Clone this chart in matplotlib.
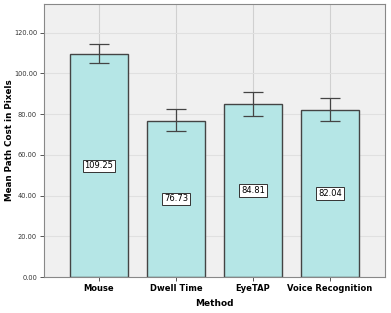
import matplotlib.pyplot as plt
import numpy as np

methods = ['Mouse', 'Dwell Time', 'EyeTAP', 'Voice Recognition']
means = [109.25, 76.73, 84.81, 82.04]
ci_low = [104.9, 71.6, 78.9, 76.5]
ci_high = [114.2, 82.4, 90.7, 87.7]

x = np.arange(len(methods))
means_arr = np.array(means)
yerr = [means_arr - np.array(ci_low), np.array(ci_high) - means_arr]

fig = plt.figure(figsize=(3.91, 3.13), dpi=100)
ax = fig.add_axes([0.1125, 0.115, 0.872, 0.872])
ax.set_facecolor('#f0f0f0')

ax.bar(x, means, width=0.75, color='#b5e6e6', edgecolor='#444444', linewidth=1.0, zorder=2)
ax.errorbar(x, means, yerr=yerr, fmt='none', ecolor='#444444', elinewidth=0.9,
            capsize=7, capthick=0.9, zorder=3)

for xi, m in zip(x, means):
    ax.text(xi, m / 2, '%.2f' % m, ha='center', va='center', fontsize=6,
            bbox=dict(boxstyle='square,pad=0.2', facecolor='white', edgecolor='#333333', linewidth=0.7),
            zorder=4)

ax.set_xlim(-0.714, 3.714)
ax.set_ylim(0, 134)
ax.set_yticks(np.arange(0, 121, 20))
ax.set_yticklabels(['%.2f' % v for v in np.arange(0, 121, 20)], fontsize=4.8, color='#333333')
ax.set_xticks(x)
ax.set_xticklabels(methods, fontsize=6, fontweight='bold')
ax.tick_params(axis='both', length=3, width=0.7, color='#555555', pad=2)
ax.yaxis.grid(True, color='#e0e0e0', linewidth=0.8, zorder=0)
ax.xaxis.grid(True, color='#d0d0d0', linewidth=0.8, zorder=0)
ax.set_axisbelow(True)
for s in ax.spines.values():
    s.set_color('#888888')
    s.set_linewidth(0.8)

ax.set_ylabel('Mean Path Cost in Pixels', fontsize=6.3, fontweight='bold')
ax.yaxis.set_label_coords(-0.088, 0.5)
ax.set_xlabel('Method', fontsize=6.5, fontweight='bold')

fig.savefig('out.png', dpi=100)
